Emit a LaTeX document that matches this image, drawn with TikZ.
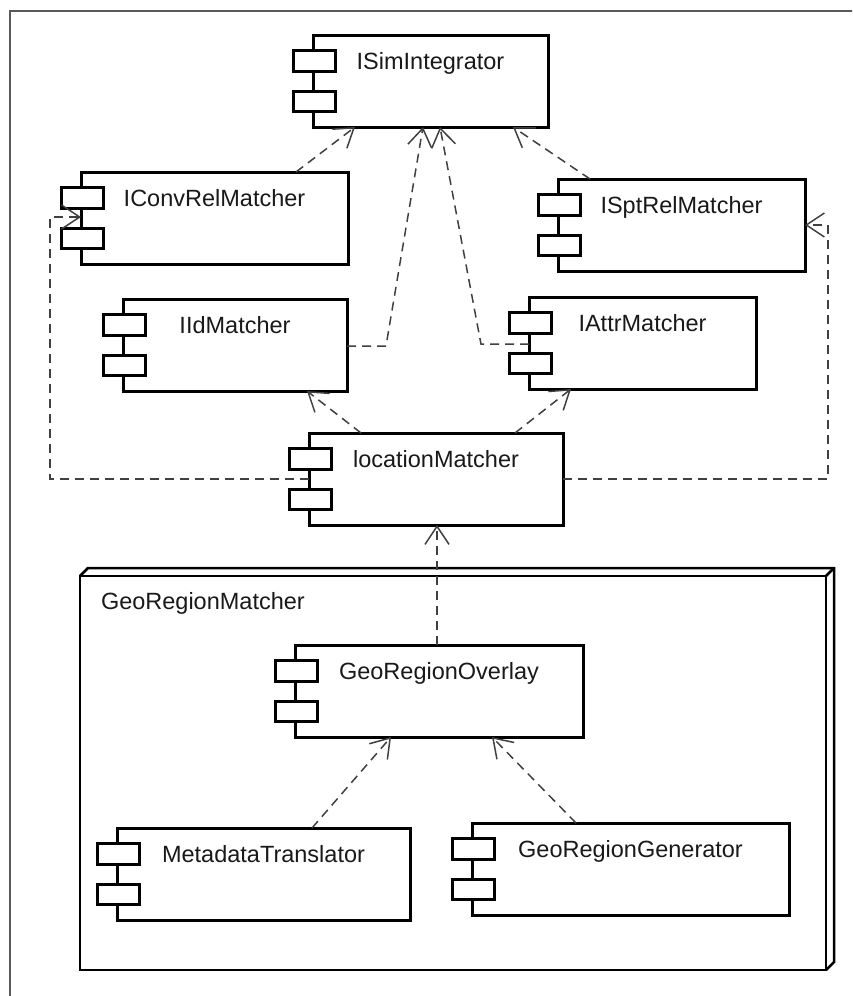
\documentclass[tikz,border=0pt]{standalone}
\usepackage{fontspec}
\setmainfont{Liberation Sans}
\usetikzlibrary{arrows.meta,calc,fit}
\tikzset{
  compbox/.style={draw=black, line width=3pt, fill=white, inner sep=0pt, outer sep=0pt, rectangle},
  portbox/.style={draw=black, line width=3pt, fill=white},
  lbl/.style={inner sep=0pt, outer sep=0pt, text=black!90, font=\fontsize{23.5}{28}\selectfont},
  dep/.style={draw=black!75, line width=1.5pt, dash pattern=on 9pt off 6pt,
     -{Straight Barb[length=18pt, width=24pt, line width=1.5pt]}},
  pkgline/.style={draw=black, line width=2.5pt},
  frameline/.style={draw=black!65, line width=1.5pt},
}
\newcommand\comp[6]{%
  \node[compbox, fit={(#2,#3) (#4,#5)}] (#1) {};
  \draw[portbox] ($(#1.north west)+(-20,15)$) rectangle ++(42,21);
  \draw[portbox] ($(#1.north west)+(-20,56)$) rectangle ++(42,20);
  \node[lbl, anchor=base] (#1-l) at ($(#1.north)+(0,34)$) {#6};
}
\begin{document}
\begin{tikzpicture}[x=1pt, y=-1pt]
\useasboundingbox (0,0) rectangle (852,996);
\clip (0,0) rectangle (852,996);
\fill[white] (0,0) rectangle (852,996);
\draw[frameline] (10,1100) -- (10,11) -- (1000,11);

% package
\node[draw=black, line width=2.5pt, inner sep=0pt, outer sep=0pt, fit={(80,576) (826,970)}] (pkg) {};
\draw[pkgline, line join=miter] (pkg.north west) -- ++(8,-8) -- ($(pkg.north east)+(8,-8)$) -- ($(pkg.south east)+(8,-8)$) -- (pkg.south east);
\draw[pkgline] (pkg.north east) -- ++(8,-8);
\node[lbl, anchor=base west] (pkg-l) at ($(pkg.north west)+(21,33)$) {GeoRegionMatcher};

% components
\comp{isim}{313}{35}{548}{127}{ISimIntegrator}
\comp{iconv}{81}{172}{348}{264}{IConvRelMatcher}
\comp{ispt}{558}{179}{805}{271}{ISptRelMatcher}
\comp{iid}{123}{299}{347}{391}{IIdMatcher}
\comp{iattr}{529}{297}{756}{389}{IAttrMatcher}
\comp{loc}{309}{433}{563}{525}{locationMatcher}
\comp{gro}{295}{645}{583}{737}{GeoRegionOverlay}
\comp{mt}{117}{828}{410}{920}{MetadataTranslator}
\comp{grg}{472}{823}{789}{915}{GeoRegionGenerator}

% dependencies
\draw[dep] ($(iconv.north west)+(215,0)$) -- ($(isim.south west)+(42,0)$);
\draw[dep] ($(ispt.north west)+(32,0)$) -- ($(isim.south west)+(200,0)$);
\draw[dep] ($(iid.north east)+(0,47)$) -- ++(39,0) -- ($(isim.south west)+(110,0)$);
\draw[dep] ($(iattr.north west)+(0,47)$) -- ++(-48,0) -- ($(isim.south west)+(127,0)$);
\draw[dep] ($(loc.north west)+(52,0)$) -- ($(iid.south west)+(184,0)$);
\draw[dep] ($(loc.north west)+(206,0)$) -- ($(iattr.south west)+(42,0)$);
\draw[dep] (loc.west) -- ++(-259,0) |- ($(iconv.north west)+(0,45)$);
\draw[dep] (loc.east) -- ++(265,0) |- ($(ispt.north east)+(0,46)$);
\draw[dep] ($(gro.north west)+(142,0)$) -- ($(loc.south west)+(128,0)$);
\draw[dep] ($(mt.north west)+(195,0)$) -- ($(gro.south west)+(96,0)$);
\draw[dep] ($(grg.north west)+(104,0)$) -- ($(gro.south west)+(197,0)$);
\end{tikzpicture}
\end{document}
